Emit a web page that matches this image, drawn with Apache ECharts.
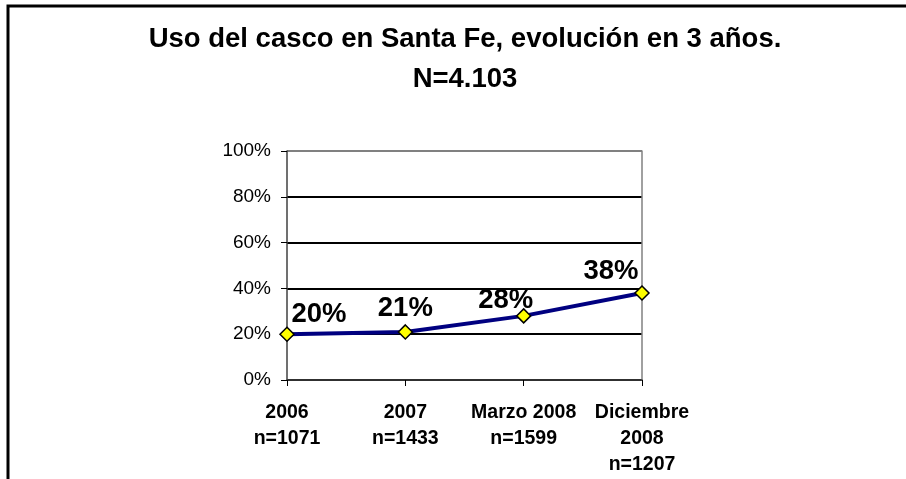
<!DOCTYPE html>
<html>
<head>
<meta charset="utf-8">
<script src="https://cdn.jsdelivr.net/npm/echarts@6/dist/echarts.min.js"></script>
<style>
  html, body { margin: 0; padding: 0; background: #fff; }
  #chart { width: 906px; height: 479px; }
</style>
</head>
<body>
<div id="chart"></div>
<script>
// datos del gráfico
const titleLines = ['Uso del casco en Santa Fe, evolución en 3 años.', 'N=4.103']
const categories = ['2006\nn=1071', '2007\nn=1433', 'Marzo 2008\nn=1599', 'Diciembre\n2008\nn=1207']
const usoCasco = [0.20, 0.21, 0.28, 0.38]
const yTicks = [0, 0.2, 0.4, 0.6, 0.8, 1]

// desplazamiento de las etiquetas de cada punto
const labelOffsets = [[32, -20], [0, -23], [-18, -15], [-31, -22]]

const myChart = echarts.init(document.getElementById('chart'))

const fontFamily = 'Liberation Sans, Arial, sans-serif'

const option = {
    animation: false,
    graphic: [
        //marco exterior (solo arriba e izquierda)
        {
            type: 'polyline',
            shape: { points: [[8, 480], [8, 6], [906, 6]] },
            style: { stroke: '#000', lineWidth: 3, fill: null }
        },
        {
            type: 'text',
            x: 465, y: 39,
            style: {
                text: titleLines[0], fontSize: 27.5, fontWeight: 'bold', fontFamily,
                fill: '#000', textAlign: 'center', textVerticalAlign: 'middle'
            }
        },
        {
            type: 'text',
            x: 465, y: 79,
            style: {
                text: titleLines[1], fontSize: 27.5, fontWeight: 'bold', fontFamily,
                fill: '#000', textAlign: 'center', textVerticalAlign: 'middle'
            }
        }
    ],
    grid: {
        left: 287,
        right: 264,
        top: 151,
        bottom: 99
    },
    xAxis: {
        type: 'category',
        data: categories,
        boundaryGap: false,
        axisLine: { lineStyle: { color: '#404040', width: 1.5 } },
        axisTick: { show: true, length: 6, lineStyle: { color: '#000' } },
        axisLabel: {
            margin: 20,
            fontSize: 19.5,
            fontWeight: 'bold',
            fontFamily,
            color: '#000',
            lineHeight: 26,
            interval: 0
        }
    },
    yAxis: [
        {
            type: 'value',
            min: 0,
            max: 1,
            interval: 0.2,
            axisLine: { show: true, lineStyle: { color: '#404040', width: 1.5 } },
            axisTick: { show: true, length: 6, lineStyle: { color: '#000' } },
            axisLabel: {
                margin: 16,
                fontSize: 19,
                fontFamily,
                color: '#000',
                formatter: v => Math.round(v * 100) + '%'
            },
            splitLine: {
                show: true,
                lineStyle: {
                    color: yTicks.map(t => (t === 1 ? '#808080' : '#000')),
                    width: 1.8
                }
            }
        },
        {
            //borde derecho del área de trazado
            type: 'value',
            position: 'right',
            min: 0,
            max: 1,
            interval: 0.2,
            axisLine: { show: true, lineStyle: { color: '#808080', width: 1.5 } },
            axisTick: { show: false },
            axisLabel: { show: false },
            splitLine: { show: false }
        }
    ],
    series: [
        {
            type: 'line',
            data: usoCasco.map((v, i) => ({
                value: v,
                label: { offset: labelOffsets[i] }
            })),
            symbol: 'diamond',
            symbolSize: 14,
            lineStyle: { color: '#000080', width: 4 },
            itemStyle: { color: '#ffff00', borderColor: '#000', borderWidth: 1.5 },
            label: {
                show: true,
                position: 'inside',
                fontSize: 27.5,
                fontWeight: 'bold',
                fontFamily,
                color: '#000',
                formatter: p => Math.round(p.value * 100) + '%'
            },
            z: 5
        }
    ]
}

myChart.setOption(option, true)
</script>
</body>
</html>
